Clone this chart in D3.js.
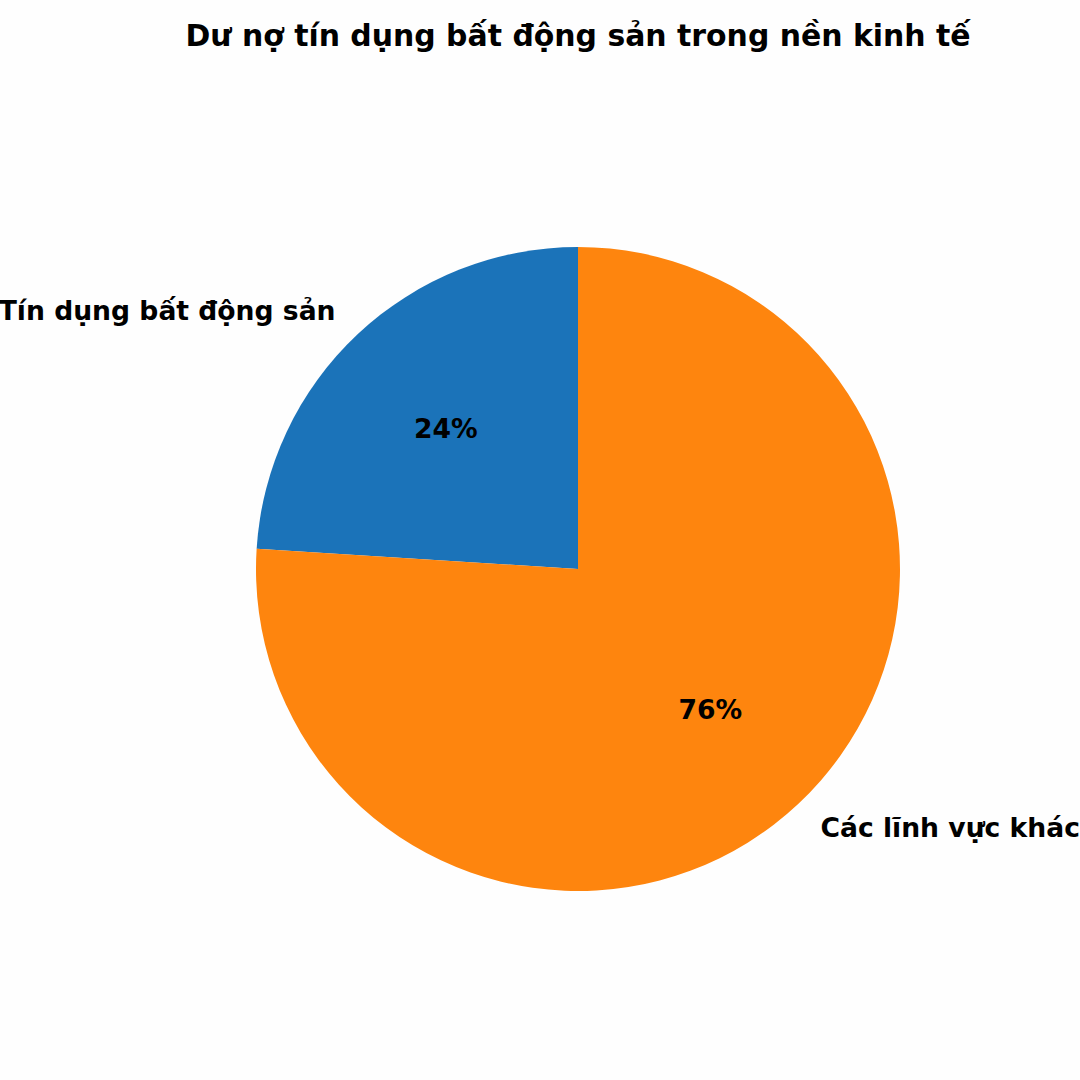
<!DOCTYPE html>
<html>
<head>
<meta charset="utf-8">
<script src="https://cdn.jsdelivr.net/npm/d3@7"></script>
<style>
  html, body { margin: 0; padding: 0; background: #fefefe; }
  text { font-family: "DejaVu Sans", sans-serif; font-weight: bold; }
</style>
</head>
<body>
<div id="chart"></div>
<script>
// Chart data
const title = 'Dư nợ tín dụng bất động sản trong nền kinh tế';
const categories = ['Tín dụng bất động sản', 'Các lĩnh vực khác'];
const values = [24, 76];
const colors = ['#1b73b9', '#fe850e'];

const width = 1080;
const height = 1080;
const cx = 578, cy = 569;
const radius = 322;

const svg = d3.select('#chart')
    .append('svg')
    .attr('width', width)
    .attr('height', height);

svg.append('rect')
    .attr('width', width)
    .attr('height', height)
    .attr('fill', '#fefefe');

// Title
svg.append('text')
    .attr('x', 578)
    .attr('y', 35)
    .attr('text-anchor', 'middle')
    .attr('dominant-baseline', 'central')
    .style('font-size', '29.9px')
    .text(title);

// Pie goes counterclockwise from 12 o'clock, like matplotlib startangle=90
const pie = d3.pie()
    .sort(null)
    .startAngle(0)
    .endAngle(-2 * Math.PI);

const arcs = pie(values);

const arc = d3.arc().innerRadius(0).outerRadius(radius);
const labelArc = d3.arc().innerRadius(radius * 1.1).outerRadius(radius * 1.1);
const pctArc = d3.arc().innerRadius(radius * 0.6).outerRadius(radius * 0.6);

const g = svg.append('g')
    .attr('transform', `translate(${cx},${cy})`);

g.selectAll('path')
    .data(arcs)
    .enter()
    .append('path')
    .attr('d', arc)
    .attr('fill', (d, i) => colors[i]);

// Category labels outside
g.selectAll('.label')
    .data(arcs)
    .enter()
    .append('text')
    .attr('class', 'label')
    .attr('x', d => labelArc.centroid(d)[0])
    .attr('y', d => labelArc.centroid(d)[1])
    .attr('text-anchor', d => labelArc.centroid(d)[0] < 0 ? 'end' : 'start')
    .attr('dominant-baseline', 'central')
    .style('font-size', '26.6px')
    .text((d, i) => categories[i]);

// Percentages inside
g.selectAll('.pct')
    .data(arcs)
    .enter()
    .append('text')
    .attr('class', 'pct')
    .attr('x', d => pctArc.centroid(d)[0])
    .attr('y', d => pctArc.centroid(d)[1])
    .attr('text-anchor', 'middle')
    .attr('dominant-baseline', 'central')
    .style('font-size', '26.6px')
    .text(d => Math.round(d.value) + '%');
</script>
</body>
</html>
